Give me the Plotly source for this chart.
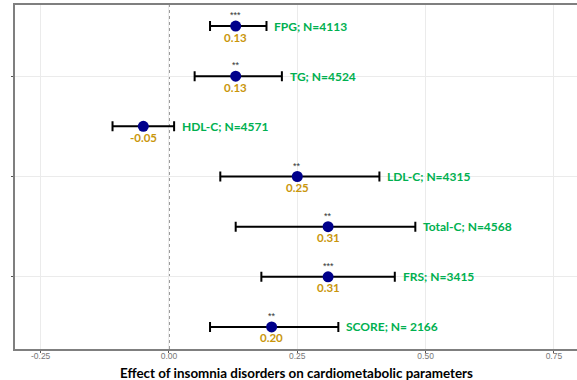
import plotly.graph_objects as go

labels = ["FPG; N=4113", "TG; N=4524", "HDL-C; N=4571", "LDL-C; N=4315",
          "Total-C; N=4568", "FRS; N=3415", "SCORE; N= 2166"]
estimates = [0.13, 0.13, -0.05, 0.25, 0.31, 0.31, 0.20]
lower = [0.08, 0.05, -0.11, 0.10, 0.13, 0.18, 0.08]
upper = [0.19, 0.22, 0.01, 0.41, 0.48, 0.44, 0.33]
value_text = ["0.13", "0.13", "-0.05", "0.25", "0.31", "0.31", "0.20"]
stars = ["***", "**", "", "**", "**", "***", "**"]
x_ticks = [-0.25, 0.0, 0.25, 0.50, 0.75]
x_tick_text = ["-0.25", "0.00", "0.25", "0.50", "0.75"]
x_title = "Effect of insomnia disorders on cardiometabolic parameters"

n = len(labels)
ypos = [n - i for i in range(n)]

GREEN = "#00B050"
GOLD = "#C9960C"
NAVY = "#00008B"

fig = go.Figure()

fig.add_trace(go.Scatter(
    x=estimates, y=ypos, mode="markers",
    marker=dict(size=11, color=NAVY),
    error_x=dict(type="data", symmetric=False,
                 array=[u - e for u, e in zip(upper, estimates)],
                 arrayminus=[e - l for e, l in zip(estimates, lower)],
                 color="black", thickness=2, width=5),
    showlegend=False, hoverinfo="skip",
))

for i in range(n):
    fig.add_annotation(x=upper[i], y=ypos[i], text=labels[i], showarrow=False,
                       xanchor="left", yanchor="middle", xshift=6,
                       font=dict(family="Lato", size=12, color=GREEN, weight="bold"))
    fig.add_annotation(x=estimates[i], y=ypos[i], text=value_text[i], showarrow=False,
                       xanchor="center", yanchor="middle", yshift=-11,
                       font=dict(family="Lato", size=11.5, color=GOLD, weight="bold"))
    if stars[i]:
        fig.add_annotation(x=estimates[i], y=ypos[i], text=stars[i], showarrow=False,
                           xanchor="center", yanchor="middle", yshift=11,
                           font=dict(family="Liberation Sans", size=9, color="#333333"))

fig.add_annotation(x=0.5, xref="paper", y=0, yref="paper", yshift=-24,
                   text=x_title, showarrow=False, xanchor="center", yanchor="middle",
                   font=dict(family="Lato", size=13.4, color="black", weight="bold"))

fig.add_shape(type="line", x0=0, x1=0, y0=0, y1=1, yref="paper", xref="x",
              line=dict(color="#777777", width=1.5, dash="dot"), layer="below")

fig.update_layout(
    width=577, height=380,
    margin=dict(l=15, r=0, t=5, b=31, autoexpand=False),
    plot_bgcolor="white", paper_bgcolor="white",
    xaxis=dict(range=[-0.300, 0.795], tickvals=x_ticks, ticktext=x_tick_text,
               automargin=False,
               showgrid=True, gridcolor="#EBEBEB", gridwidth=1, zeroline=False,
               showline=True, linecolor="#7F7F7F", linewidth=1.5, mirror=True,
               ticks="outside", ticklen=2, tickcolor="#555555",
               ticklabelstandoff=-4,
               tickfont=dict(family="Liberation Sans", size=8.5, color="#777777")),
    yaxis=dict(range=[0.56, 7.42], tickvals=[2, 4, 6], showticklabels=False,
               automargin=False,
               showgrid=True, gridcolor="#EBEBEB", gridwidth=1, zeroline=False,
               showline=True, linecolor="#7F7F7F", linewidth=1.5,
               ticks="outside", ticklen=2, tickcolor="#555555"),
)

fig.write_html("out.html", config={"displayModeBar": False},
               post_script="document.body.style.margin='0';document.body.style.overflow='hidden';")
